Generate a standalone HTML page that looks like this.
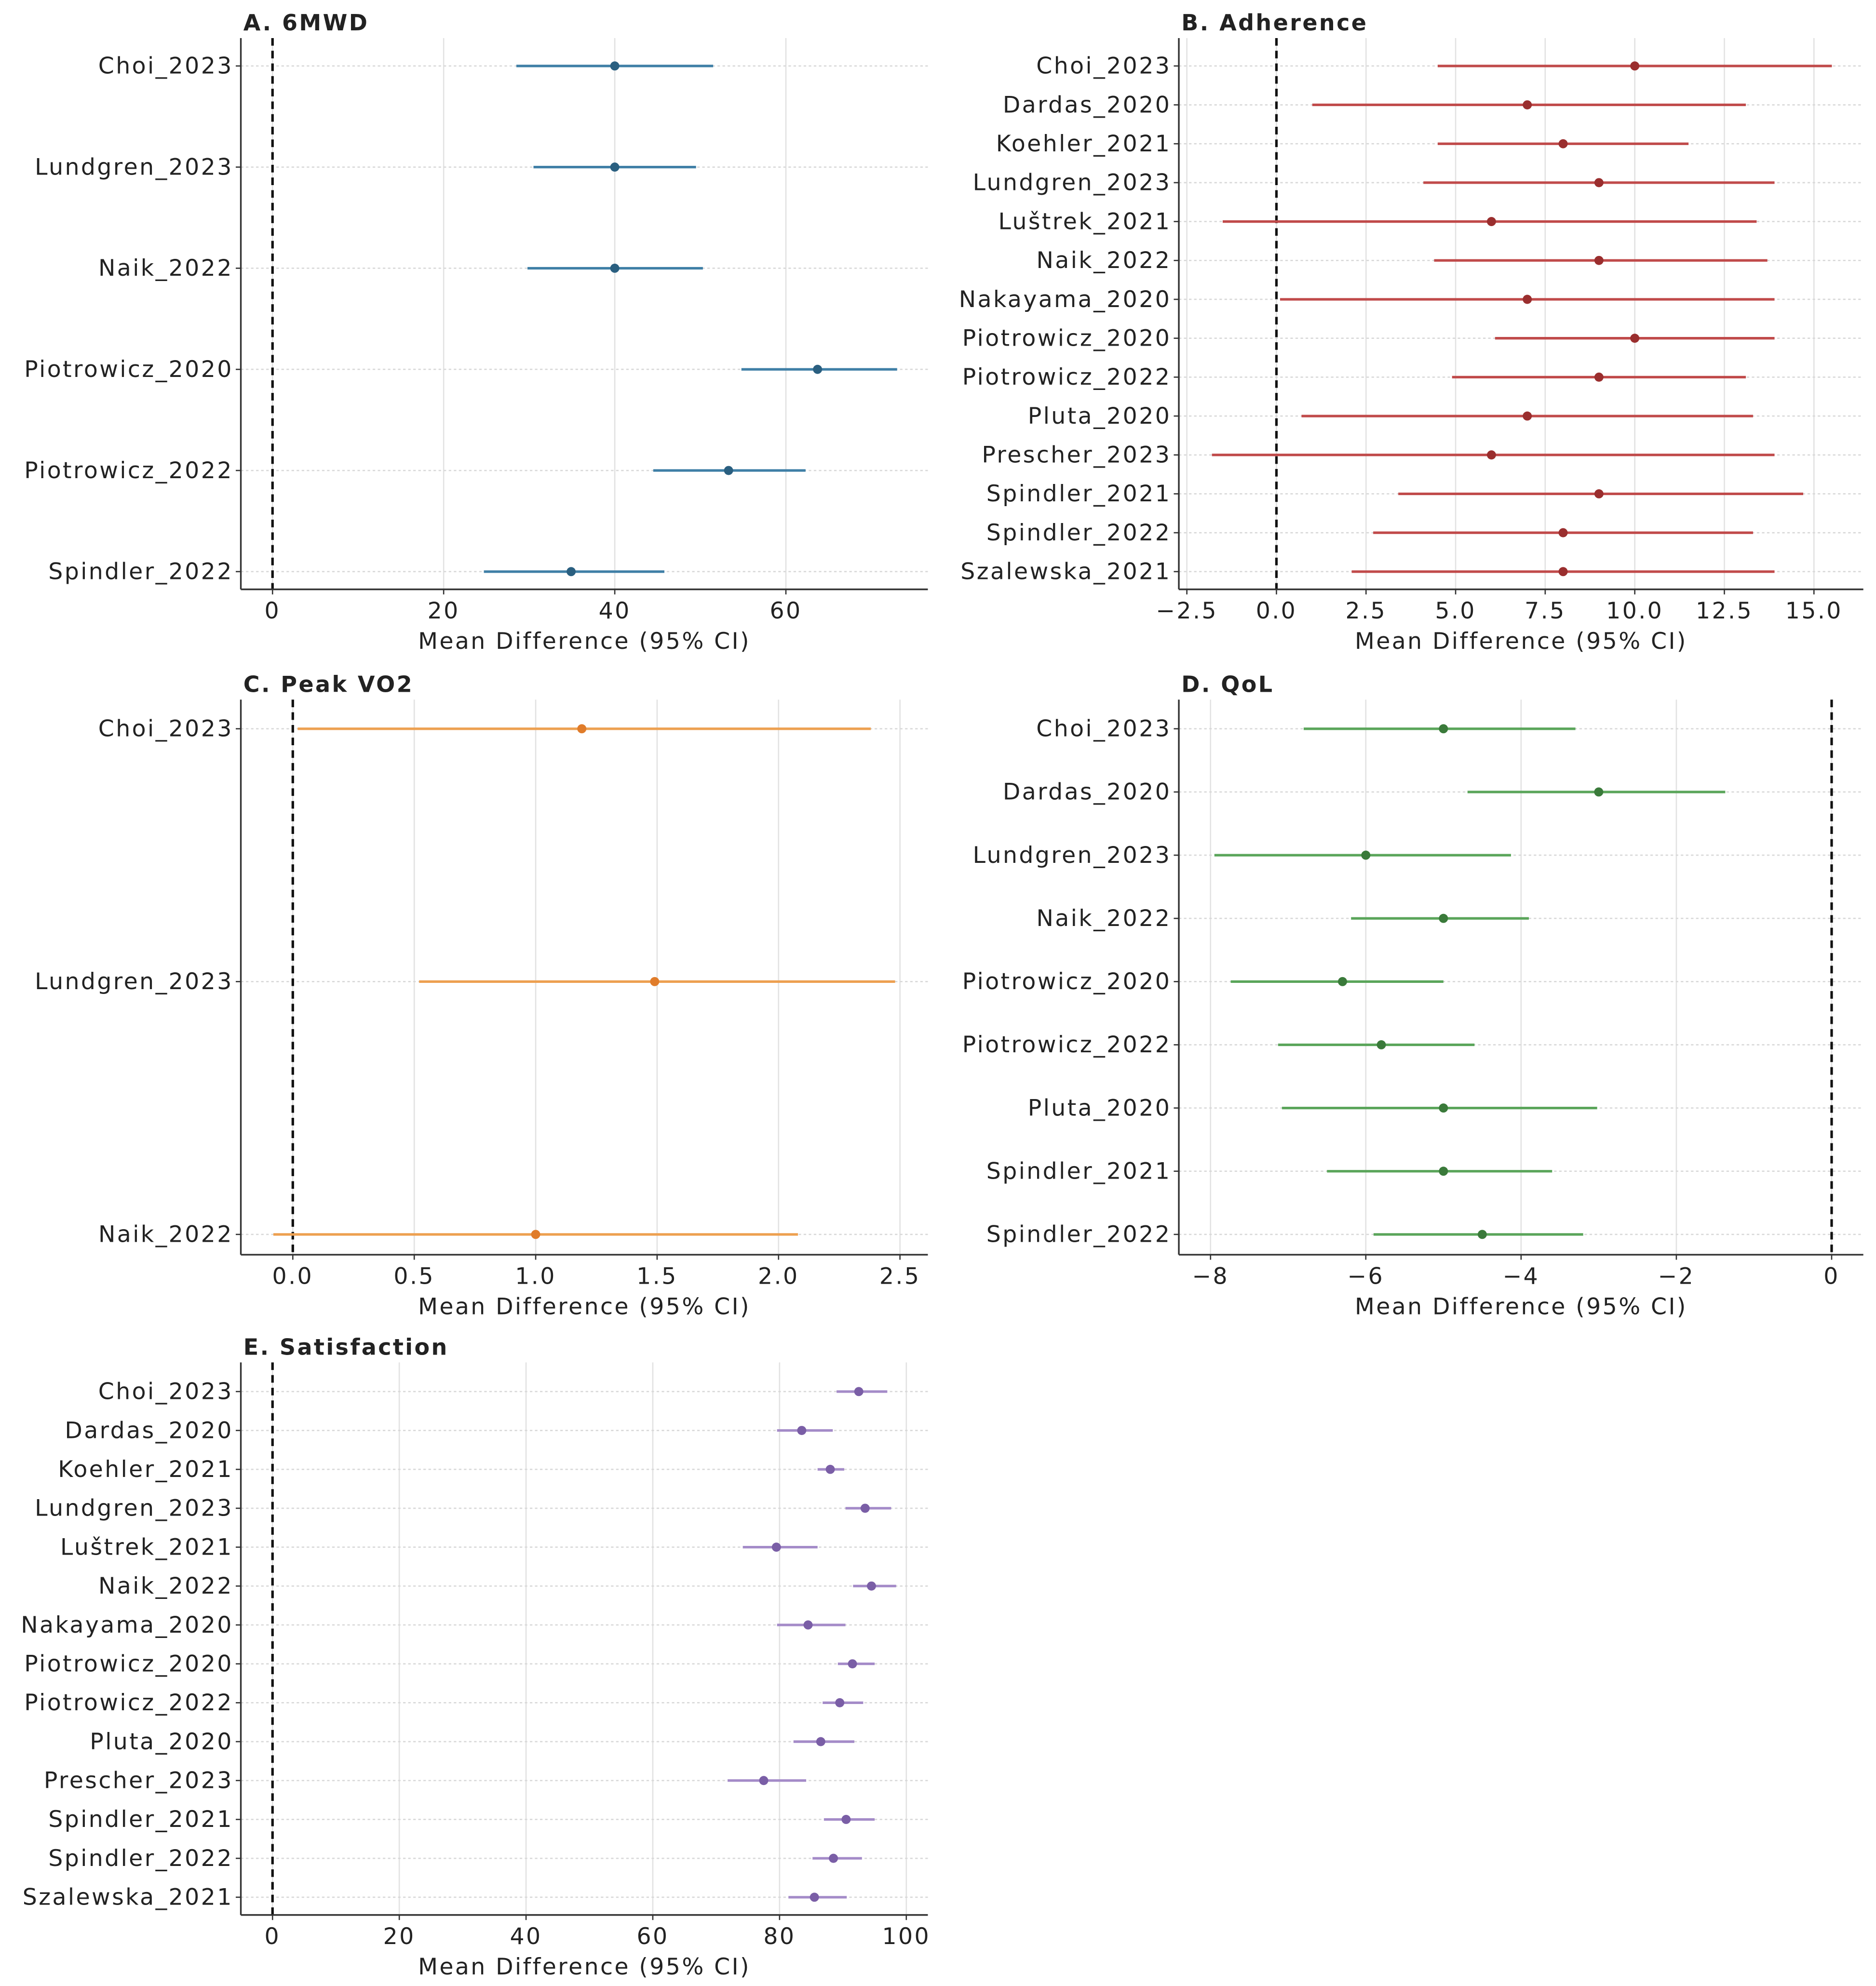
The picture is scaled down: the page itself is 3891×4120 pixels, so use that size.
<!DOCTYPE html>
<html><head><meta charset="utf-8"><style>
html,body{margin:0;padding:0;background:#fff;}
svg{display:block;}
text{font-family:"DejaVu Sans","Liberation Sans",sans-serif;fill:#222;letter-spacing:1.3px;}
</style></head>
<body>
<svg id="fig" width="3891" height="4120" viewBox="0 0 1480 1567" xmlns="http://www.w3.org/2000/svg"></svg>
<script>
// Panel A: 6MWD
const aStudies = ["Choi_2023","Lundgren_2023","Naik_2022","Piotrowicz_2020","Piotrowicz_2022","Spindler_2022"];
const aMean = [40,40,40,63.7,53.3,34.9];
const aLo = [28.5,30.5,29.8,54.8,44.5,24.7];
const aHi = [51.5,49.5,50.3,73,62.3,45.8];
const aTicks = [0,20,40,60];
// Panel B: Adherence
const bStudies = ["Choi_2023","Dardas_2020","Koehler_2021","Lundgren_2023","Luštrek_2021","Naik_2022","Nakayama_2020","Piotrowicz_2020","Piotrowicz_2022","Pluta_2020","Prescher_2023","Spindler_2021","Spindler_2022","Szalewska_2021"];
const bMean = [10,7,8,9,6,9,7,10,9,7,6,9,8,8];
const bLo = [4.5,1.0,4.5,4.1,-1.5,4.4,0.1,6.1,4.9,0.7,-1.8,3.4,2.7,2.1];
const bHi = [15.5,13.1,11.5,13.9,13.4,13.7,13.9,13.9,13.1,13.3,13.9,14.7,13.3,13.9];
const bTicks = [-2.5,0,2.5,5,7.5,10,12.5,15];
const bTickLabels = ["−2.5","0.0","2.5","5.0","7.5","10.0","12.5","15.0"];
// Panel C: Peak VO2
const cStudies = ["Choi_2023","Lundgren_2023","Naik_2022"];
const cMean = [1.19,1.49,1.0];
const cLo = [0.02,0.52,-0.08];
const cHi = [2.38,2.48,2.08];
const cTicks = [0,0.5,1,1.5,2,2.5];
const cTickLabels = ["0.0","0.5","1.0","1.5","2.0","2.5"];
// Panel D: QoL
const dStudies = ["Choi_2023","Dardas_2020","Lundgren_2023","Naik_2022","Piotrowicz_2020","Piotrowicz_2022","Pluta_2020","Spindler_2021","Spindler_2022"];
const dMean = [-5,-3,-6,-5,-6.3,-5.8,-5,-5,-4.5];
const dLo = [-6.8,-4.69,-7.95,-6.19,-7.74,-7.13,-7.08,-6.5,-5.9];
const dHi = [-3.3,-1.37,-4.13,-3.9,-5.0,-4.6,-3.02,-3.6,-3.2];
const dTicks = [-8,-6,-4,-2,0];
const dTickLabels = ["−8","−6","−4","−2","0"];
// Panel E: Satisfaction
const eStudies = ["Choi_2023","Dardas_2020","Koehler_2021","Lundgren_2023","Luštrek_2021","Naik_2022","Nakayama_2020","Piotrowicz_2020","Piotrowicz_2022","Pluta_2020","Prescher_2023","Spindler_2021","Spindler_2022","Szalewska_2021"];
const eMean = [92.5,83.5,88,93.5,79.5,94.5,84.5,91.5,89.5,86.5,77.5,90.5,88.5,85.5];
const eLo = [89,79.6,86,90.4,74.2,91.6,79.6,89.2,86.8,82.2,71.8,87,85.2,81.4];
const eHi = [97,88.4,90.2,97.6,86,98.4,90.4,95,93.2,91.8,84.2,95,93,90.6];
const eTicks = [0,20,40,60,80,100];

const NS="http://www.w3.org/2000/svg";
const fig=document.getElementById('fig');
function mk(tag,attrs,parent,txt){const e=document.createElementNS(NS,tag);for(const k in attrs)e.setAttribute(k,attrs[k]);if(txt!==undefined)e.textContent=txt;parent.appendChild(e);return e;}

function panel(cfg){
  const g=mk('g',{},fig);
  
  
  const L=cfg.left,R=cfg.right,T=cfg.top,B=cfg.bottom;
  const sx=v=>cfg.x0px+(v-cfg.x0)*cfg.pxPerUnit;
  const n=cfg.studies.length;
  const sy=i=>cfg.firstY+i*(cfg.lastY-cfg.firstY)/(n-1);
  cfg.ticks.forEach((t,i)=>{
    const gl=mk('line',{x1:sx(t),x2:sx(t),y1:T,y2:B,stroke:'#e2e2e2','stroke-width':1},g);
    
    
  });
  cfg.studies.forEach((s,i)=>{
    const hl=mk('line',{x1:L,x2:R,y1:sy(i),y2:sy(i),stroke:'#d8d8d8','stroke-width':1,'stroke-dasharray':'2,2'},g);
    
    
  });
  const z=mk('line',{x1:sx(0),x2:sx(0),y1:T,y2:B,stroke:'#111','stroke-width':2,'stroke-dasharray':'6,4'},g);
  
  
  cfg.studies.forEach((s,i)=>{
    const ci=mk('line',{x1:sx(cfg.lo[i]),x2:sx(cfg.hi[i]),y1:sy(i),y2:sy(i),stroke:cfg.color,'stroke-width':2},g);
    
    
    const m=mk('circle',{cx:sx(cfg.mean[i]),cy:sy(i),r:3.6,fill:cfg.mark},g);
    
    
    const lbl=mk('text',{x:L-6,y:sy(i)+6,'text-anchor':'end','font-size':18},g,s);
    
    
    mk('line',{x1:L-4,x2:L,y1:sy(i),y2:sy(i),stroke:'#333','stroke-width':1},g);
  });
  const ls=mk('line',{x1:L,x2:L,y1:T,y2:B,stroke:'#333','stroke-width':1.3},g);
  
  
  const bs=mk('line',{x1:L,x2:R,y1:B,y2:B,stroke:'#333','stroke-width':1.3},g);
  
  
  cfg.ticks.forEach((t,i)=>{
    mk('line',{x1:sx(t),x2:sx(t),y1:B,y2:B+4,stroke:'#333','stroke-width':1},g);
    const tl=mk('text',{x:sx(t),y:B+23,'text-anchor':'middle','font-size':18},g,cfg.tickLabels?cfg.tickLabels[i]:String(t));
    
    
  });
  const xl=mk('text',{x:(L+R)/2,y:B+47,'text-anchor':'middle','font-size':18},g,'Mean Difference (95% CI)');
  
  
  const tt=mk('text',{x:L+2,y:T-6,'font-size':17.5,'font-weight':'bold'},g,cfg.title);
  
  
}

panel({name:'panel-a-6mwd',title:'A. 6MWD',left:190,right:732,top:30,bottom:465,x0:0,x0px:215,pxPerUnit:6.75,
  firstY:52,lastY:451,studies:aStudies,mean:aMean,lo:aLo,hi:aHi,ticks:aTicks,color:'#3f7fa6',mark:'#2a5f80'});
panel({name:'panel-b-adherence',title:'B. Adherence',left:930,right:1470,top:30,bottom:465,x0:0,x0px:1007,pxPerUnit:28.27,
  firstY:52,lastY:451,studies:bStudies,mean:bMean,lo:bLo,hi:bHi,ticks:bTicks,tickLabels:bTickLabels,color:'#c04a4a',mark:'#9a2e2e'});
panel({name:'panel-c-peak-vo2',title:'C. Peak VO2',left:190,right:732,top:552,bottom:990,x0:0,x0px:231,pxPerUnit:191.6,
  firstY:575,lastY:974,studies:cStudies,mean:cMean,lo:cLo,hi:cHi,ticks:cTicks,tickLabels:cTickLabels,color:'#eda050',mark:'#e07c2a'});
panel({name:'panel-d-qol',title:'D. QoL',left:930,right:1470,top:552,bottom:990,x0:0,x0px:1445,pxPerUnit:61.25,
  firstY:575,lastY:974,studies:dStudies,mean:dMean,lo:dLo,hi:dHi,ticks:dTicks,tickLabels:dTickLabels,color:'#5aa55a',mark:'#3a7a3a'});
panel({name:'panel-e-satisfaction',title:'E. Satisfaction',left:190,right:732,top:1075,bottom:1511,x0:0,x0px:215,pxPerUnit:5,
  firstY:1098,lastY:1497,studies:eStudies,mean:eMean,lo:eLo,hi:eHi,ticks:eTicks,color:'#a48bc8',mark:'#7a5ea6'});
</script>
</body></html>
